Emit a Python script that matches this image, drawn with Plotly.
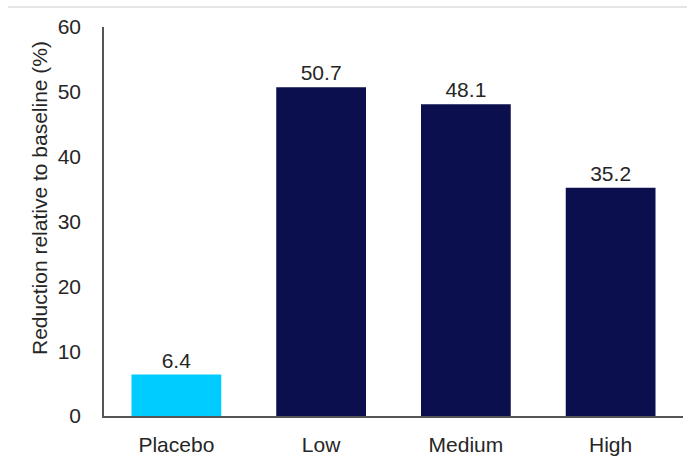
import plotly.graph_objects as go

categories = ["Placebo", "Low", "Medium", "High"]
values = [6.4, 50.7, 48.1, 35.2]
bar_colors = ["#00CCFF", "#0B0F4E", "#0B0F4E", "#0B0F4E"]
y_ticks = [0, 10, 20, 30, 40, 50, 60]
y_title = "Reduction relative to baseline (%)"

W, H = 687, 458
ml, mr, mt, mb = 104, 4, 27, 42
FONT = "Liberation Sans, Arial"
TXT = "#262626"

fig = go.Figure(go.Bar(
    x=categories, y=values,
    marker=dict(color=bar_colors, line=dict(width=0)),
    text=[f"{v:.1f}" for v in values],
    textposition="outside",
    textfont=dict(size=21, color=TXT, family=FONT),
    cliponaxis=False,
    hoverinfo="skip",
))

fig.update_layout(
    width=W, height=H,
    margin=dict(l=ml, r=mr, t=mt, b=mb, autoexpand=False),
    plot_bgcolor="white", paper_bgcolor="white",
    bargap=0.38,
    showlegend=False,
    font=dict(family=FONT, size=21, color=TXT),
)
fig.update_xaxes(
    showline=True, linecolor="#555555", linewidth=1.5,
    ticks="", showgrid=False,
    tickfont=dict(size=21, color=TXT),
    ticklabelstandoff=9,
)
fig.update_yaxes(
    range=[0, 60], tickvals=y_ticks,
    showline=True, linecolor="#555555", linewidth=1.5,
    ticks="", showgrid=False, zeroline=False,
    tickfont=dict(size=21, color=TXT),
    ticklabelstandoff=17,
)
plot_w = W - ml - mr
plot_h = H - mt - mb
fig.add_annotation(
    text=y_title, textangle=-90,
    xref="paper", yref="paper",
    x=(39 - ml) / plot_w, y=(H - mb - 198) / plot_h,
    xanchor="center", yanchor="middle",
    showarrow=False, font=dict(size=21, color=TXT),
)
fig.add_shape(
    type="line", xref="paper", yref="paper",
    x0=(8 - ml) / plot_w, x1=1 + mr / plot_w,
    y0=1 + (mt - 7) / plot_h, y1=1 + (mt - 7) / plot_h,
    line=dict(color="#DDDDDD", width=1.5),
)

fig.write_html(
    "out.html",
    config={"displayModeBar": False},
    post_script="document.body.style.margin='0';document.body.style.overflow='hidden';",
)
